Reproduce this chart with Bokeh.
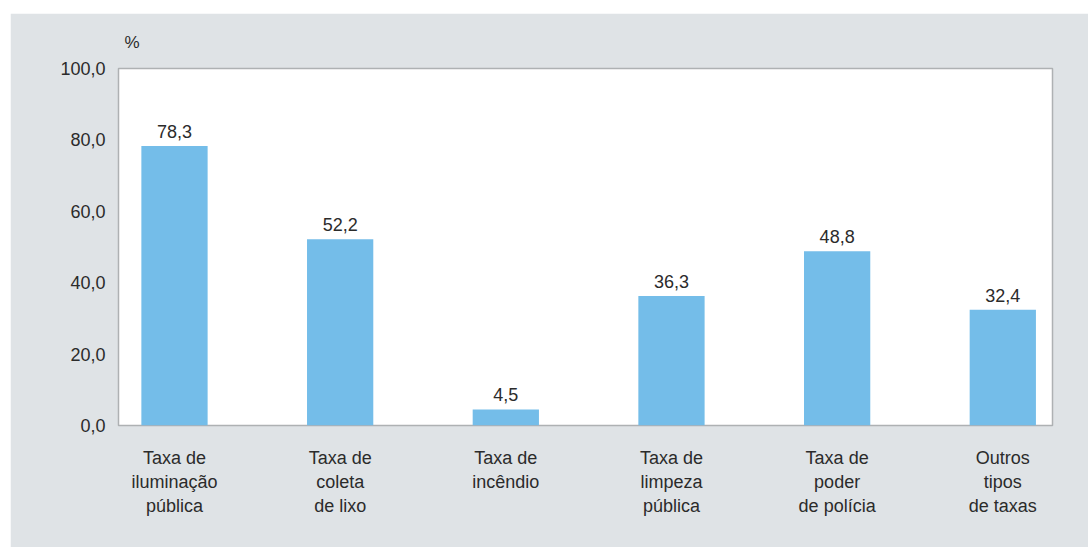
from bokeh.plotting import figure
from bokeh.models import FixedTicker, Range1d, ColumnDataSource
from bokeh.embed import file_html
from bokeh.resources import INLINE
from bokeh.core.properties import value

categories = ["Taxa de\niluminação\npública", "Taxa de\ncoleta\nde lixo", "Taxa de\nincêndio",
              "Taxa de\nlimpeza\npública", "Taxa de\npoder\nde polícia", "Outros\ntipos\nde taxas"]
values = [78.3, 52.2, 4.5, 36.3, 48.8, 32.4]
y_ticks = [0, 20, 40, 60, 80, 100]
y_tick_labels = ["0,0", "20,0", "40,0", "60,0", "80,0", "100,0"]

FONT = "Liberation Sans"
TXT = "#2b2b2b"

xs = list(range(len(categories)))
src = ColumnDataSource(dict(x=xs, top=values, lab=[f"{v:.1f}".replace(".", ",") for v in values]))

p = figure(width=1078, height=534, output_backend="svg", toolbar_location=None,
           x_range=Range1d(-0.338, 5.30), y_range=Range1d(0, 100),
           min_border_left=108, min_border_right=36, min_border_top=55, min_border_bottom=122)
p.margin = (13, 0, 0, 10)
p.background_fill_color = "white"
p.border_fill_color = "#dfe3e6"
p.outline_line_color = "#aeb1b3"
p.outline_line_width = 1.5
p.grid.visible = False

p.vbar(x="x", top="top", width=0.4, bottom=0, source=src, color="#74bde9", line_color=None)
p.text(x="x", y="top", text="lab", source=src, text_align="center", text_baseline="bottom",
       y_offset=-8, text_font=value(FONT), text_font_size="18px", text_color=TXT)

p.xaxis.ticker = FixedTicker(ticks=xs)
p.xaxis.major_label_overrides = {i: c for i, c in enumerate(categories)}
p.yaxis.ticker = FixedTicker(ticks=y_ticks)
p.yaxis.major_label_overrides = {t: l for t, l in zip(y_ticks, y_tick_labels)}

for ax in (p.xaxis, p.yaxis):
    ax.axis_line_color = None
    ax.major_tick_line_color = None
    ax.minor_tick_line_color = None
    ax.major_label_text_font = FONT
    ax.major_label_text_font_size = "18px"
    ax.major_label_text_color = TXT
p.xaxis.major_label_standoff = 16
p.xaxis.major_label_text_line_height = 1.2
p.yaxis.major_label_standoff = 7

p.title.text = "%"
p.title.text_font = FONT
p.title.text_font_size = "17px"
p.title.text_font_style = "normal"
p.title.text_color = TXT
p.title.align = "left"
p.title.offset = 6
p.title.standoff = 34

open("out.html", "w").write(file_html(p, INLINE))
